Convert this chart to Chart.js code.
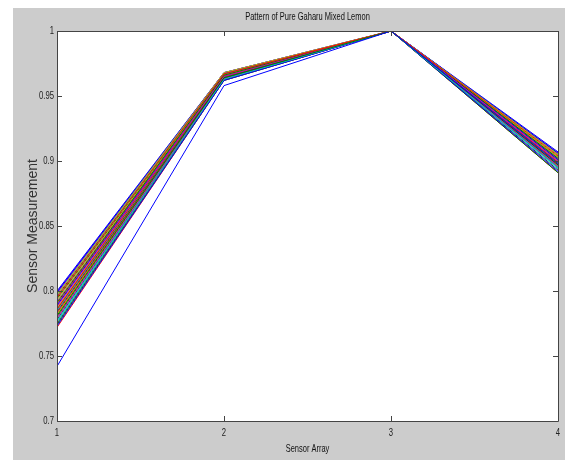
<!DOCTYPE html>
<html>
<head>
<meta charset="utf-8">
<script src="https://cdn.jsdelivr.net/npm/chart.js@4/dist/chart.umd.min.js"></script>
<style>
  html, body { margin: 0; padding: 0; background: #ffffff; }
  #wrap { width: 581px; height: 460px; position: relative; }
</style>
</head>
<body>
<div id="wrap"><canvas id="c" width="581" height="460"></canvas></div>
<script>
// ---- Data ----
const chartTitle = 'Pattern of Pure Gaharu Mixed Lemon';
const xAxisTitle = 'Sensor Array';
const yAxisTitle = 'Sensor Measurement';
const sensorPositions = [1, 2, 3, 4];
const xTickLabels = ['1', '2', '3', '4'];
const yTickValues = [0.7, 0.75, 0.8, 0.85, 0.9, 0.95, 1];
const yTickLabels = ['0.7', '0.75', '0.8', '0.85', '0.9', '0.95', '1'];

// one entry per measured sample, for each sensor
const sensor1 = [0.742, 0.781, 0.795, 0.776, 0.788, 0.797, 0.784, 0.773, 0.791, 0.786, 0.797, 0.779, 0.793, 0.775, 0.789, 0.794, 0.783, 0.777, 0.792, 0.787, 0.796, 0.799, 0.774, 0.790, 0.785, 0.798, 0.782, 0.778, 0.800, 0.786, 0.772, 0.789, 0.799, 0.781, 0.780];
const sensor2 = [0.958, 0.964, 0.967, 0.963, 0.965, 0.968, 0.964, 0.962, 0.966, 0.965, 0.967, 0.963, 0.966, 0.963, 0.965, 0.966, 0.964, 0.963, 0.966, 0.965, 0.967, 0.967, 0.962, 0.966, 0.965, 0.967, 0.964, 0.963, 0.968, 0.965, 0.962, 0.965, 0.968, 0.964, 0.964];
const sensor3 = [1, 1, 1, 1, 1, 1, 1, 1, 1, 1, 1, 1, 1, 1, 1, 1, 1, 1, 1, 1, 1, 1, 1, 1, 1, 1, 1, 1, 1, 1, 1, 1, 1, 1, 1];
const sensor4 = [0.898, 0.897, 0.904, 0.894, 0.900, 0.905, 0.898, 0.892, 0.902, 0.899, 0.905, 0.896, 0.903, 0.893, 0.901, 0.903, 0.897, 0.895, 0.902, 0.900, 0.905, 0.906, 0.891, 0.901, 0.899, 0.906, 0.897, 0.895, 0.907, 0.899, 0.891, 0.900, 0.906, 0.896, 0.896];

// MATLAB classic colour order
const colorOrder = ['rgb(0,0,255)', 'rgb(0,128,0)', 'rgb(255,0,0)', 'rgb(0,191,191)', 'rgb(191,0,191)', 'rgb(191,191,0)', 'rgb(64,64,64)'];

// ---- Build datasets ----
const datasets = sensor1.map((v, i) => ({
  data: [
    { x: sensorPositions[0], y: sensor1[i] },
    { x: sensorPositions[1], y: sensor2[i] },
    { x: sensorPositions[2], y: sensor3[i] },
    { x: sensorPositions[3], y: sensor4[i] }
  ],
  borderColor: colorOrder[i % colorOrder.length],
  borderWidth: 1,
  pointRadius: 0,
  tension: 0,
  fill: false
}));

const baseFont = '"Liberation Sans", Arial, sans-serif';
const SQUEEZE = 0.7;

// Narrow (condensed) look of the original figure's text
function squeezeLabels(scale, f) {
  if (scale.__sq) return;
  scale.__sq = true;
  const orig = scale.drawLabels;
  scale._computeLabelArea = () => undefined;
  scale.drawLabels = function (area) {
    const items = this.getLabelItems(area);
    const saved = items.map(it => it.options.translation);
    items.forEach(it => { it.options.translation = [it.options.translation[0] / f, it.options.translation[1]]; });
    this.ctx.save();
    this.ctx.scale(f, 1);
    orig.call(this, area);
    this.ctx.restore();
    items.forEach((it, i) => { it.options.translation = saved[i]; });
  };
}
function squeezeTitle(scale, f) {
  if (scale.__sqt) return;
  scale.__sqt = true;
  const orig = scale.drawTitle;
  scale.drawTitle = function () {
    const cx = (this.left + this.right) / 2;
    this.ctx.save();
    this.ctx.translate(cx, 0);
    this.ctx.scale(f, 1);
    this.ctx.translate(-cx, 0);
    orig.call(this);
    this.ctx.restore();
  };
}

const figurePlugin = {
  id: 'figureBg',
  afterLayout(chart) {
    squeezeLabels(chart.scales.x, SQUEEZE);
    squeezeLabels(chart.scales.y, SQUEEZE);
    squeezeTitle(chart.scales.x, 0.68);
    const tb = chart.titleBlock;
    if (tb && !tb.__sq) {
      tb.__sq = true;
      const orig = tb.draw;
      tb.draw = function () {
        const a = chart.chartArea;
        const cxPlot = (a.left + a.right) / 2;
        const cxTitle = (this.left + this.right) / 2;
        this.ctx.save();
        this.ctx.translate(cxPlot, 0);
        this.ctx.scale(0.75, 1);
        this.ctx.translate(-cxTitle, 0);
        orig.call(this);
        this.ctx.restore();
      };
    }
  },
  beforeDraw(chart) {
    const ctx = chart.ctx;
    const a = chart.chartArea;
    ctx.save();
    ctx.fillStyle = '#ffffff';
    ctx.fillRect(0, 0, chart.width, chart.height);
    ctx.fillStyle = '#cccccc';
    ctx.fillRect(13, 8, 552, chart.height - 8);
    ctx.fillStyle = '#ffffff';
    ctx.fillRect(a.left, a.top, a.right - a.left, a.bottom - a.top);
    ctx.restore();
  },
  afterDraw(chart) {
    const ctx = chart.ctx;
    const a = chart.chartArea;
    const xs = chart.scales.x, ys = chart.scales.y;
    const tl = 5;
    ctx.save();
    ctx.strokeStyle = '#444444';
    ctx.lineWidth = 1;
    ctx.beginPath();
    ctx.rect(Math.round(a.left) + 0.5, Math.round(a.top) + 0.5, Math.round(a.right - a.left), Math.round(a.bottom - a.top));
    ctx.stroke();
    ctx.beginPath();
    sensorPositions.forEach(v => {
      const px = Math.round(xs.getPixelForValue(v)) + 0.5;
      ctx.moveTo(px, a.bottom); ctx.lineTo(px, a.bottom - tl);
      ctx.moveTo(px, a.top); ctx.lineTo(px, a.top + tl);
    });
    yTickValues.forEach(v => {
      const py = Math.round(ys.getPixelForValue(v)) + 0.5;
      ctx.moveTo(a.left, py); ctx.lineTo(a.left + tl, py);
      ctx.moveTo(a.right, py); ctx.lineTo(a.right - tl, py);
    });
    ctx.stroke();
    ctx.restore();
  }
};

new Chart(document.getElementById('c'), {
  type: 'line',
  data: { datasets },
  plugins: [figurePlugin],
  options: {
    responsive: false,
    animation: false,
    devicePixelRatio: 1,
    layout: { padding: { left: 0, right: 23, top: 0, bottom: 0 } },
    plugins: {
      legend: { display: false },
      tooltip: { enabled: false },
      title: {
        display: true,
        text: chartTitle,
        color: '#111111',
        font: { family: baseFont, size: 10, weight: 'normal' },
        padding: { top: 11, bottom: 8 }
      }
    },
    scales: {
      x: {
        type: 'linear',
        min: 1, max: 4,
        afterBuildTicks(scale) { scale.ticks = sensorPositions.map(v => ({ value: v })); },
        afterFit(scale) { scale.height = 39; },
        grid: { display: false, drawTicks: false },
        border: { display: false },
        ticks: {
          padding: 5,
          color: '#222222',
          font: { family: baseFont, size: 11 },
          callback: (v) => xTickLabels[sensorPositions.indexOf(v)],
          maxRotation: 0
        },
        title: {
          display: true,
          text: xAxisTitle,
          color: '#111111',
          font: { family: baseFont, size: 11 },
          padding: { top: 0, bottom: 4 }
        }
      },
      y: {
        type: 'linear',
        min: 0.7, max: 1,
        afterBuildTicks(scale) { scale.ticks = yTickValues.map(v => ({ value: v })); },
        afterFit(scale) { scale.width = 57; },
        grid: { display: false, drawTicks: false },
        border: { display: false },
        ticks: {
          padding: 3,
          color: '#222222',
          font: { family: baseFont, size: 11 },
          callback: (v) => {
            const i = yTickValues.findIndex(t => Math.abs(t - v) < 1e-9);
            return i >= 0 ? yTickLabels[i] : '';
          }
        },
        title: {
          display: true,
          text: yAxisTitle,
          color: '#333333',
          font: { family: baseFont, size: 14 },
          padding: { top: 25, bottom: 0 }
        }
      }
    }
  }
});
</script>
</body>
</html>
